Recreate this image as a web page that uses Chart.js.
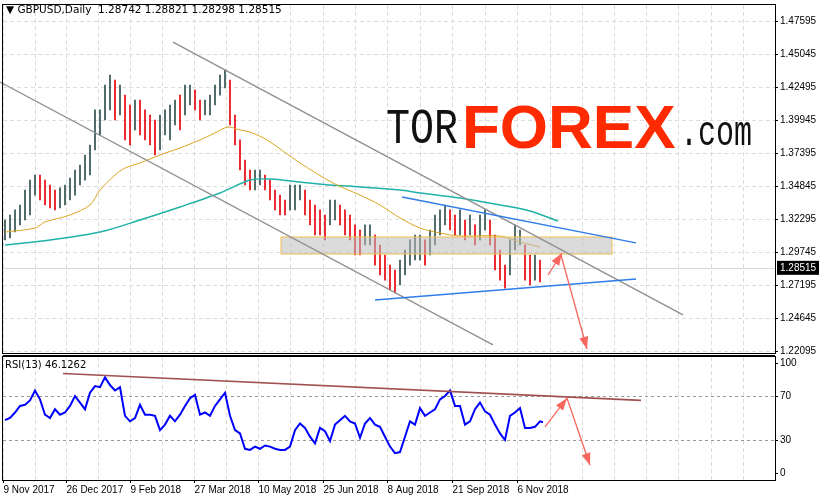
<!DOCTYPE html>
<html>
<head>
<meta charset="utf-8">
<script src="https://cdn.jsdelivr.net/npm/chart.js@4"></script>
<style>
  body { margin: 0; background: #fff; width: 819px; height: 500px; overflow: hidden; position: relative; font-family: "DejaVu Sans", sans-serif; }
  #pricePane { position: absolute; left: 0; top: 0; }
  #rsiPane { position: absolute; left: 0; top: 355px; }
  .hdr { position: absolute; font-size: 10.5px; color: #000; white-space: nowrap; }
  .logo { position: absolute; white-space: nowrap; line-height: 1; transform-origin: 0 84.6%; }
</style>
</head>
<body>
<canvas id="pricePane" width="819" height="357"></canvas>
<canvas id="rsiPane" width="819" height="145"></canvas>
<div class="hdr" style="left:6px;top:3px">&#9660; GBPUSD,Daily&nbsp; 1.28742 1.28821 1.28298 1.28515</div>
<div class="hdr" style="left:5px;top:359px;font-size:10px">RSI(13) 46.1262</div>
<span class="logo" style="left:386px;top:114px;font-family:'Liberation Mono';font-size:40px;color:#111;transform:scaleY(1.25)">TOR</span>
<span class="logo" style="left:462px;top:95.5px;font-family:'Liberation Sans';font-weight:bold;font-size:62px;color:#ff2a00">FOREX</span>
<span class="logo" style="left:680px;top:122.6px;font-family:'Liberation Mono';font-size:30px;color:#111;transform:scaleY(1.4)">.com</span>
<script>
// sample positions are bar slots (one slot = 5 screen px)
const highs = [1.3221,1.3260,1.3299,1.3337,1.3453,1.3530,1.3569,1.3569,1.3530,1.3492,1.3453,1.3469,1.3492,1.3546,1.3608,1.3646,1.3724,1.3801,1.4072,1.4072,
  1.4265,1.4342,1.4303,1.4265,1.4187,1.4110,1.4149,1.4149,1.4072,1.4033,1.3994,1.4033,1.4072,1.4110,1.4149,1.4187,1.4265,1.4265,1.4226,1.4149,
  1.4149,1.4187,1.4265,1.4342,1.4381,1.4303,1.4033,1.3840,1.3685,1.3608,1.3608,1.3608,1.3569,1.3530,1.3453,1.3414,1.3376,1.3492,1.3492,1.3492,
  1.3453,1.3376,1.3337,1.3299,1.3260,1.3376,1.3376,1.3337,1.3299,1.3260,1.3183,1.3144,1.3183,1.3183,1.3105,1.3028,1.2951,1.2873,1.2835,1.2912,
  1.2989,1.3067,1.3105,1.3105,1.3067,1.3144,1.3260,1.3299,1.3337,1.3299,1.3260,1.3299,1.3221,1.3260,1.3183,1.3260,1.3299,1.3221,1.3105,1.2989,
  1.2873,1.3067,1.3183,1.3144,1.3028,1.2951,1.2951,1.2912];
const lows = [1.3067,1.3082,1.3129,1.3183,1.3221,1.3260,1.3414,1.3376,1.3337,1.3314,1.3299,1.3314,1.3337,1.3376,1.3414,1.3492,1.3530,1.3569,1.3762,1.3878,
  1.3994,1.4072,1.3994,1.4033,1.3840,1.3801,1.3917,1.3878,1.3840,1.3801,1.3724,1.3762,1.3878,1.3840,1.3956,1.3917,1.4033,1.4110,1.4072,1.3994,
  1.4033,1.4033,1.4110,1.4187,1.4242,1.3956,1.3801,1.3608,1.3492,1.3453,1.3453,1.3492,1.3453,1.3376,1.3299,1.3260,1.3260,1.3299,1.3299,1.3376,
  1.3260,1.3183,1.3105,1.3105,1.3067,1.3183,1.3221,1.3183,1.3105,1.3067,1.2951,1.2951,1.3028,1.3028,1.2873,1.2796,1.2757,1.2680,1.2657,1.2719,
  1.2796,1.2873,1.2912,1.2912,1.2873,1.2951,1.3028,1.3105,1.3183,1.3144,1.3105,1.3105,1.3067,1.3105,1.3028,1.3067,1.3144,1.3028,1.2835,1.2757,
  1.2695,1.2796,1.2989,1.3028,1.2757,1.2719,1.2757,1.2742];
const rsi = [48,50,55,61,62,66,75,67,53,50,58,53,55,61,70,64,58,73,79,78,87,80,75,78,52,47,50,62,53,53,52,39,44,52,47,53,61,68,71,53,
  55,52,61,67,73,52,39,36,22,21,24,22,25,24,22,21,21,24,39,45,41,33,27,41,38,29,44,48,52,47,45,32,45,50,44,42,33,24,18,19,
  33,47,44,59,52,55,58,67,70,75,61,61,44,47,58,64,56,53,44,36,30,52,55,59,41,41,42,47];
const ma50X = [1,7,9,14,18,20,23,25,28,32,36,40,43,45.6,48,50,53.4,60,66.6,72,76,80,84,88,92,100,104,108];
const ma50Y = [1.3128,1.3159,1.3206,1.3260,1.3337,1.3453,1.3569,1.3623,1.3662,1.3724,1.3778,1.3840,1.3894,1.3940,1.3917,1.3901,1.3840,1.3662,1.3507,1.3414,1.3337,1.3237,1.3159,1.3121,1.3097,1.3097,1.3051,1.3012];
const ma200X = [1,10,20,28,36,44,50,54,60,66,72,80,84,92,100,106,111.6];
const ma200Y = [1.3028,1.3067,1.3128,1.3221,1.3322,1.3430,1.3530,1.3538,1.3515,1.3492,1.3477,1.3453,1.3430,1.3392,1.3337,1.3291,1.3213];
const priceTicks = [1.22095,1.24645,1.27195,1.29745,1.32295,1.34845,1.37395,1.39945,1.42495,1.45045,1.47595];
const rsiTicks = [0, 30, 70, 100];
const dateLabels = ['9 Nov 2017','26 Dec 2017','9 Feb 2018','27 Mar 2018','10 May 2018','25 Jun 2018','8 Aug 2018','21 Sep 2018','6 Nov 2018'];
const datePos = [0.6,13.2,26,38.8,51.6,64.6,77.4,90.4,103.4];
const lastPrice = 1.28515;
const lastRsi = 46.1262;

const xMin = 0.6, xMax = 155;
const labelFont = '10px "Liberation Sans"';
const slots = highs.map((_, i) => i + 1);
const barColors = highs.map((h, i) => {
  const m = (h + lows[i]) / 2;
  const p = i ? (highs[i - 1] + lows[i - 1]) / 2 : m;
  return m < p ? '#e8000b' : '#2f4f4f';
});
const gridX = [];
for (let i = 0; i < datePos.length; i++) {
  gridX.push(datePos[i]);
  const step = i + 1 < datePos.length ? datePos[i + 1] - datePos[i] : datePos[i] - datePos[i - 1];
  gridX.push(datePos[i] + step / 2);
}
while (gridX[gridX.length - 1] + 6.45 < xMax) gridX.push(gridX[gridX.length - 1] + 6.45);

function line(ctx, x1, y1, x2, y2, color, w) {
  ctx.strokeStyle = color; ctx.lineWidth = w;
  ctx.beginPath(); ctx.moveTo(x1, y1); ctx.lineTo(x2, y2); ctx.stroke();
}
function arrow(ctx, x1, y1, x2, y2) {
  line(ctx, x1, y1, x2, y2, '#f8675e', 1.3);
  const a = Math.atan2(y2 - y1, x2 - x1);
  ctx.fillStyle = '#f8675e';
  ctx.beginPath();
  ctx.moveTo(x2, y2);
  ctx.lineTo(x2 - 13 * Math.cos(a - 0.35), y2 - 13 * Math.sin(a - 0.35));
  ctx.lineTo(x2 - 13 * Math.cos(a + 0.35), y2 - 13 * Math.sin(a + 0.35));
  ctx.closePath(); ctx.fill();
}
function drawGrid(chart, hLines) {
  const { ctx, chartArea: a, scales: { x, y } } = chart;
  ctx.save();
  ctx.setLineDash([4, 3]);
  gridX.forEach(v => { const px = Math.round(x.getPixelForValue(v)) + 0.5; line(ctx, px, a.top, px, a.bottom, '#dcdcdc', 1); });
  hLines.forEach(v => { const py = Math.round(y.getPixelForValue(v)) + 0.5; line(ctx, a.left, py, a.right, py, '#dcdcdc', 1); });
  ctx.restore();
}
function drawYLabels(chart, values, fmt) {
  const { ctx, chartArea: a, scales: { y } } = chart;
  ctx.save();
  ctx.font = labelFont; ctx.fillStyle = '#000'; ctx.textBaseline = 'middle'; ctx.textAlign = 'left';
  values.forEach(v => {
    const py = Math.round(y.getPixelForValue(v)) + 0.5;
    line(ctx, a.right, py, a.right + 3, py, '#000', 1);
    ctx.fillText(fmt(v), a.right + 5, py);
  });
  ctx.restore();
}

const priceDecor = {
  id: 'priceDecor',
  beforeDatasetsDraw(chart) {
    drawGrid(chart, priceTicks);
    const { ctx, chartArea: a, scales: { y } } = chart;
    const py = Math.round(y.getPixelForValue(lastPrice)) + 0.5;
    line(ctx, a.left, py, a.right, py, '#d8d8d8', 1);
  },
  afterDatasetsDraw(chart) {
    const { ctx, chartArea: a, scales: { x, y } } = chart;
    const X = v => x.getPixelForValue(v), Y = v => y.getPixelForValue(v);
    ctx.save();
    ctx.fillStyle = 'rgba(190,190,190,0.55)';
    ctx.strokeStyle = '#f0c050'; ctx.lineWidth = 1;
    ctx.fillRect(X(56.2), Y(1.3090), X(122.4) - X(56.2), Y(1.2958) - Y(1.3090));
    ctx.strokeRect(X(56.2), Y(1.3090), X(122.4) - X(56.2), Y(1.2958) - Y(1.3090));
    line(ctx, X(34.6), Y(1.4597), X(136.6), Y(1.2487), '#909090', 1.4);
    line(ctx, X(0), Y(1.4288), X(98.6), Y(1.2255), '#909090', 1.4);
    line(ctx, X(80.4), Y(1.3399), X(127.2), Y(1.3044), '#2f7de8', 1.4);
    line(ctx, X(75), Y(1.2603), X(127.2), Y(1.2765), '#2f7de8', 1.4);
    arrow(ctx, X(109.6), Y(1.2796), X(112.4), Y(1.2966));
    arrow(ctx, X(112.2), Y(1.2951), X(117.4), Y(1.2224));
    ctx.strokeStyle = '#000'; ctx.lineWidth = 1;
    ctx.strokeRect(a.left - 0.5, a.top - 0.5, a.right - a.left + 1, a.bottom - a.top + 1);
    line(ctx, a.left, a.bottom + 2.5, a.right, a.bottom + 2.5, '#000', 1);
    ctx.restore();
    drawYLabels(chart, priceTicks, v => v.toFixed(5));
    const py = Y(lastPrice);
    ctx.save();
    ctx.fillStyle = '#000';
    ctx.fillRect(a.right + 2, py - 7, 42, 14);
    ctx.fillStyle = '#fff'; ctx.font = labelFont; ctx.textBaseline = 'middle';
    ctx.fillText(lastPrice.toFixed(5), a.right + 5, py);
    ctx.restore();
  }
};

new Chart(document.getElementById('pricePane'), {
  data: {
    labels: slots,
    datasets: [
      { type: 'bar', data: slots.map((s, i) => ({ x: s, y: [lows[i], highs[i]] })), backgroundColor: barColors, barThickness: 1, grouped: false, order: 3 },
      { type: 'line', data: ma50X.map((v, i) => ({ x: v, y: ma50Y[i] })), borderColor: '#daa520', borderWidth: 1, pointRadius: 0, tension: 0.3, order: 1 },
      { type: 'line', data: ma200X.map((v, i) => ({ x: v, y: ma200Y[i] })), borderColor: '#20b2aa', borderWidth: 1.5, pointRadius: 0, tension: 0.3, order: 2 }
    ]
  },
  options: {
    responsive: false, animation: false, events: [],
    layout: { padding: { left: 3, top: 5, right: 0, bottom: 4 } },
    plugins: { legend: { display: false }, tooltip: { enabled: false } },
    scales: {
      x: { type: 'linear', min: xMin, max: xMax, display: false, offset: false },
      y: {
        position: 'right', min: 1.21931, max: 1.48832,
        afterFit: s => { s.width = 44; },
        grid: { display: false }, border: { display: false },
        ticks: { display: false }
      }
    }
  },
  plugins: [priceDecor]
});

const rsiDecor = {
  id: 'rsiDecor',
  beforeDatasetsDraw(chart) {
    drawGrid(chart, []);
    const { ctx, chartArea: a, scales: { y } } = chart;
    ctx.save(); ctx.setLineDash([3, 3]);
    [70, 30].forEach(v => { const py = Math.round(y.getPixelForValue(v)) + 0.5; line(ctx, a.left, py, a.right, py, '#999', 1); });
    ctx.restore();
  },
  afterDatasetsDraw(chart) {
    const { ctx, chartArea: a, scales: { x, y } } = chart;
    const X = v => x.getPixelForValue(v), Y = v => y.getPixelForValue(v);
    ctx.save();
    line(ctx, X(12.6), Y(90.5), X(128.2), Y(66), '#a05050', 1.6);
    arrow(ctx, X(109), Y(42), X(113.4), Y(68));
    arrow(ctx, X(113.4), Y(68), X(118), Y(7));
    ctx.strokeStyle = '#000'; ctx.lineWidth = 1;
    ctx.strokeRect(a.left - 0.5, a.top - 0.5, a.right - a.left + 1, a.bottom - a.top + 1);
    ctx.font = labelFont; ctx.fillStyle = '#000'; ctx.textBaseline = 'top'; ctx.textAlign = 'left';
    datePos.forEach((v, i) => {
      const px = Math.round(X(v)) + 0.5;
      line(ctx, px, a.bottom, px, a.bottom + 3, '#000', 1);
      ctx.fillText(dateLabels[i], px, a.bottom + 5);
    });
    ctx.restore();
    drawYLabels(chart, rsiTicks, v => String(v));
  }
};

new Chart(document.getElementById('rsiPane'), {
  type: 'line',
  data: {
    datasets: [{ data: rsi.map((v, i) => ({ x: slots[i], y: v })).concat([{ x: slots[slots.length - 1] + 0.6, y: lastRsi }]),
      borderColor: '#0000ff', borderWidth: 2, pointRadius: 0, tension: 0 }]
  },
  options: {
    responsive: false, animation: false, events: [],
    layout: { padding: { left: 3, top: 2, right: 0, bottom: 20 } },
    plugins: { legend: { display: false }, tooltip: { enabled: false } },
    scales: {
      x: { type: 'linear', min: xMin, max: xMax, display: false },
      y: {
        position: 'right', min: -6.4, max: 105.5,
        afterFit: s => { s.width = 44; },
        grid: { display: false }, border: { display: false },
        ticks: { display: false }
      }
    }
  },
  plugins: [rsiDecor]
});
</script>
</body>
</html>
